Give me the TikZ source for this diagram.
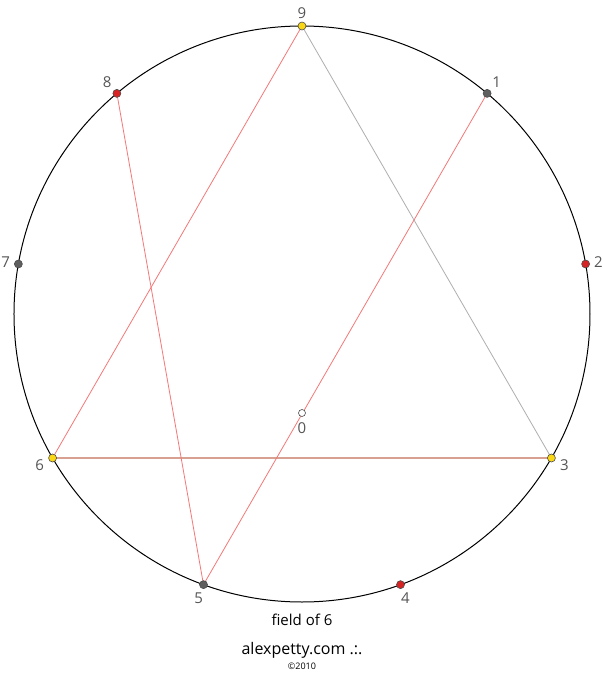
\documentclass[tikz,border=0pt]{standalone}
\usepackage{fontspec}
\setmainfont{Open Sans}
\definecolor{dotyellow}{RGB}{250,215,20}
\definecolor{dotred}{RGB}{215,35,35}
\definecolor{dotgray}{RGB}{95,95,95}
\definecolor{linered}{RGB}{245,120,120}
\definecolor{linegray}{RGB}{175,175,175}
\definecolor{linetan}{RGB}{215,160,145}
\definecolor{labelgray}{RGB}{85,85,85}
\tikzset{
  pt/.style={circle,draw=black!70,line width=0.6pt,inner sep=0pt,minimum size=8pt},
  num/.style={text=labelgray,font=\fontsize{15}{17}\selectfont,inner sep=0pt},
}
\begin{document}
\begin{tikzpicture}[x=1pt,y=1pt]
  \useasboundingbox[fill=white] (-302,-359) rectangle (301,314);
  \draw[black,line width=1pt] (0,0) circle(288);

  % points on the circle
  \coordinate (c9) at (90:288);
  \coordinate (c1) at (50:288);
  \coordinate (c2) at (10:288);
  \coordinate (c3) at (-30:288);
  \coordinate (c4) at (-70:288);
  \coordinate (c5) at (-110:288);
  \coordinate (c6) at (-150:288);
  \coordinate (c7) at (170:288);
  \coordinate (c8) at (130:288);
  \coordinate (c0) at (0,-99);

  \draw[linered,line width=0.8pt] (c9) -- (c6);
  \draw[linegray,line width=0.8pt] (c9) -- (c3);
  \draw[linetan,line width=1.2pt] (c6) -- (c3);
  \draw[linered,line width=0.8pt] (c8) -- (c5);
  \draw[linered,line width=0.8pt] (c1) -- (c5);

  \node[pt,fill=dotyellow] (p9) at (c9) {};
  \node[pt,fill=dotgray]   (p1) at (c1) {};
  \node[pt,fill=dotred]    (p2) at (c2) {};
  \node[pt,fill=dotyellow] (p3) at (c3) {};
  \node[pt,fill=dotred]    (p4) at (c4) {};
  \node[pt,fill=dotgray]   (p5) at (c5) {};
  \node[pt,fill=dotyellow] (p6) at (c6) {};
  \node[pt,fill=dotgray]   (p7) at (c7) {};
  \node[pt,fill=dotred]    (p8) at (c8) {};
  \node[pt,fill=white,minimum size=7pt] (p0) at (c0) {};

  % labels
  \node[num] (l9) at (90:301) {9};
  \node[num] (l1) at (50:303) {1};
  \node[num] (l2) at (10:301) {2};
  \node[num] (l3) at (-30:303) {3};
  \node[num] (l4) at (-70:302) {4};
  \node[num] (l5) at (-110:302) {5};
  \node[num] (l6) at (-150:303) {6};
  \node[num] (l7) at (170:301) {7};
  \node[num] (l8) at (130:303) {8};
  \node[num] (l0) at (0,-114) {0};

  \node[font=\fontsize{15}{17}\selectfont,inner sep=0pt] (title) at (0,-306) {field of 6};
  \node[font=\fontsize{16}{18}\selectfont,inner sep=0pt] (site) at (0,-336) {alexpetty.com .:.};
  \node[font=\fontsize{9}{10}\selectfont,inner sep=0pt] (year) at (0,-352) {©2010};
\end{tikzpicture}
\end{document}
